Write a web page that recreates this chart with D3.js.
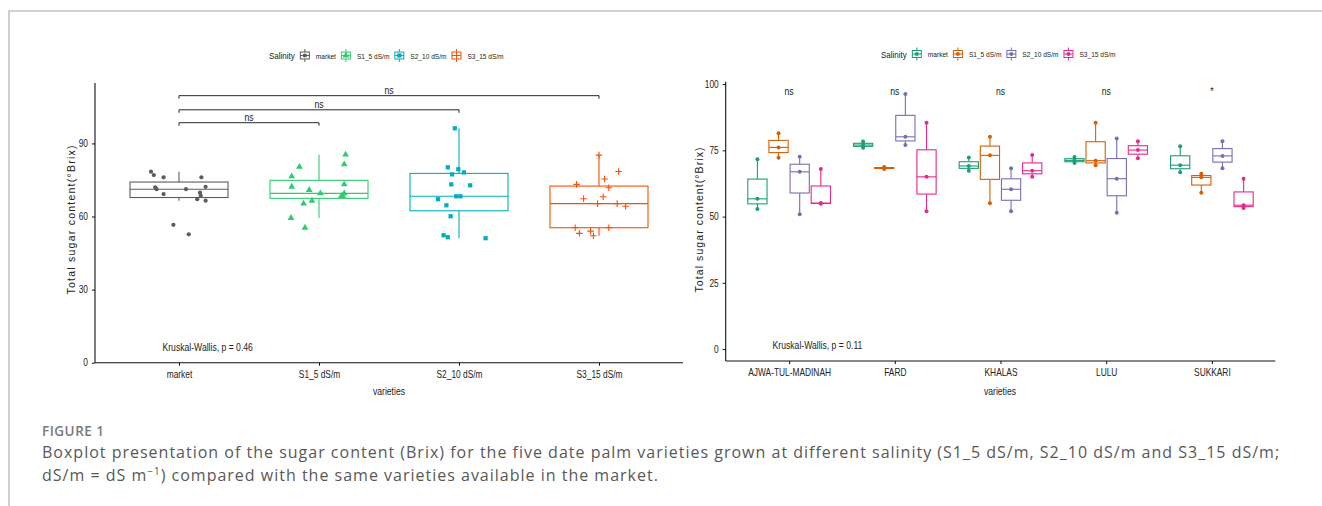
<!DOCTYPE html>
<html>
<head>
<meta charset="utf-8">
<script src="https://cdn.jsdelivr.net/npm/d3@7"></script>
<style>
  body { margin: 0; background: #fff; }
  svg { display: block; }
</style>
</head>
<body>
<svg id="fig" width="1322" height="506"></svg>
<script>
// Data

// left panel: sugar content of all varieties per salinity level (jitter = offset in category widths)
const leftGroups = ['market', 'S1_5 dS/m', 'S2_10 dS/m', 'S3_15 dS/m'];
const marketVals = [78.4, 77.0, 76.1, 76.1, 72.0, 71.2, 71.2, 72.2, 69.2, 69.8, 68.5, 67.1, 66.5, 56.6, 52.7];
const marketJit = [-0.2, -0.18, -0.11, 0.16, -0.17, -0.16, 0.05, 0.19, -0.11, 0.15, 0.155, 0.13, 0.19, -0.04, 0.07];
const s1Vals = [85.4, 81.4, 80.4, 76.5, 72.2, 73.2, 70.9, 69.5, 69.5, 68.4, 68.4, 66.5, 65.3, 59.4, 55.4];
const s1Jit = [0.19, 0.18, -0.14, -0.195, -0.195, 0.18, -0.07, 0.01, 0.18, 0.16, 0.17, -0.05, -0.11, -0.2, -0.1];
const s2Vals = [96.2, 80.2, 79.4, 78.1, 77.3, 73.2, 72.8, 68.3, 68.3, 67.1, 64.6, 60.1, 52.3, 51.5, 51.1];
const s2Jit = [-0.03, -0.08, -0.005, 0.035, -0.05, -0.055, 0.08, -0.02, 0.01, -0.15, -0.09, -0.06, -0.11, -0.08, 0.19];
const s3Vals = [85.2, 78.5, 75.4, 73.2, 71.8, 67.3, 68.1, 65.3, 65.3, 64.2, 55.4, 55.4, 53.1, 54.0, 52.1];
const s3Jit = [0.0, 0.14, 0.04, -0.16, 0.07, -0.11, 0.03, -0.01, 0.13, 0.19, -0.17, 0.07, -0.14, -0.06, -0.04];
const leftYTicks = [0, 30, 60, 90];
const leftPairs = [[0, 1], [0, 2], [0, 3]];
const leftPairLevels = [98.5, 103.8, 109.6];
const leftPairLabels = ['ns', 'ns', 'ns'];
const leftKW = 'Kruskal-Wallis, p = 0.46';

// right panel: three readings per variety and salinity level
const varieties = ['AJWA-TUL-MADINAH', 'FARD', 'KHALAS', 'LULU', 'SUKKARI'];
const rMarket = [[71.6, 56.7, 52.9], [78.3, 77.0, 76.0], [72.3, 69.1, 67.3], [72.5, 71.2, 70.2], [76.5, 69.4, 66.7]];
const rS1 = [[81.4, 76.1, 72.2], [68.7, 68.3, 68.0], [80.1, 73.1, 55.0], [85.4, 71.1, 69.4], [66.2, 64.8, 59.0]];
const rS2 = [[72.6, 66.9, 50.9], [96.3, 80.1, 77.0], [68.2, 60.3, 52.0], [79.5, 64.3, 51.4], [78.4, 72.9, 68.2]];
const rS3 = [[68.0, 55.1, 54.8], [85.4, 65.0, 52.0], [73.2, 67.3, 65.0], [78.4, 75.1, 72.0], [64.3, 54.3, 53.2]];
const rightYTicks = [0, 25, 50, 75, 100];
const rightSig = ['ns', 'ns', 'ns', 'ns', '*'];
const rightKW = 'Kruskal-Wallis, p = 0.11';

// Setup

const FONT = "'Liberation Sans', Arial, sans-serif";
const SQUEEZE = 0.82; // narrow look of the original plot font
const leftColors = ['#5c5c5c', '#2ecc71', '#00afbb', '#fc4e07'];
const rightColors = ['#1b9e77', '#d95f02', '#7570b3', '#e7298a'];
const leftShapes = [d3.symbolCircle, d3.symbolTriangle, d3.symbolSquare, d3.symbolPlus];
const leftSizes = [14, 20, 18, 16];

let svg = d3.select('#fig');

// squeeze text horizontally to look like a condensed face
function narrow(sel) {
  sel.each(function () {
    let w = this.getComputedTextLength();
    d3.select(this).attr('textLength', w * SQUEEZE).attr('lengthAdjust', 'spacingAndGlyphs');
  });
  return sel;
}

function label(g, x, y, txt, size, anchor) {
  return narrow(
    g.append('text')
      .attr('x', x).attr('y', y)
      .attr('text-anchor', anchor || 'start')
      .attr('font-family', FONT).attr('font-size', size).attr('fill', '#222')
      .text(txt)
  );
}

function boxStats(vals) {
  let s = vals.slice().sort(d3.ascending);
  let q1 = d3.quantileSorted(s, 0.25);
  let med = d3.quantileSorted(s, 0.5);
  let q3 = d3.quantileSorted(s, 0.75);
  let iqr = q3 - q1;
  let lo = d3.min(s.filter((v) => v >= q1 - 1.5 * iqr));
  let hi = d3.max(s.filter((v) => v <= q3 + 1.5 * iqr));
  return { q1, med, q3, lo, hi };
}

function drawBox(g, cx, w, st, color, y) {
  g.append('line')
    .attr('x1', cx).attr('x2', cx)
    .attr('y1', y(st.q3)).attr('y2', y(st.hi))
    .attr('stroke', color).attr('stroke-width', 1.1);
  g.append('line')
    .attr('x1', cx).attr('x2', cx)
    .attr('y1', y(st.q1)).attr('y2', y(st.lo))
    .attr('stroke', color).attr('stroke-width', 1.1);
  g.append('rect')
    .attr('x', cx - w / 2).attr('width', w)
    .attr('y', y(st.q3)).attr('height', Math.max(y(st.q1) - y(st.q3), 0.5))
    .attr('fill', '#fff').attr('stroke', color).attr('stroke-width', 1.1);
  g.append('line')
    .attr('x1', cx - w / 2).attr('x2', cx + w / 2)
    .attr('y1', y(st.med)).attr('y2', y(st.med))
    .attr('stroke', color).attr('stroke-width', 1.1);
}

function axes(g, x, y, ticks, x0, x1, yTop, yBottom) {
  g.append('g')
    .attr('transform', `translate(0,${yBottom})`)
    .call(d3.axisBottom(x).tickSize(3).tickPadding(5))
    .call((a) => a.select('.domain').attr('d', `M${x0},0H${x1}`));
  g.append('g')
    .attr('transform', `translate(${x0},0)`)
    .call(d3.axisLeft(y).tickValues(ticks).tickSize(3).tickPadding(4))
    .call((a) => a.select('.domain').attr('d', `M0,${yTop}V${yBottom}`));
  narrow(g.selectAll('.tick text').attr('font-family', FONT).attr('font-size', 10.2).attr('fill', '#222'));
  g.selectAll('.domain').attr('stroke', '#111').attr('stroke-width', 1.1);
  g.selectAll('.tick line').attr('stroke', '#111');
}

function legend(cx, cy, colors, shapes, sizes) {
  let g = svg.append('g');
  let t = label(g, 0, cy + 3.5, 'Salinity', 9.8);
  let xpos = +t.attr('textLength') + 5.5;
  leftGroups.forEach(function (name, i) {
    let k = g.append('g').attr('transform', `translate(${xpos + 4.5},${cy})`);
    k.append('line').attr('y1', -6.5).attr('y2', 6.5).attr('stroke', colors[i]);
    k.append('rect').attr('x', -4.5).attr('y', -3.5).attr('width', 9).attr('height', 7)
      .attr('fill', '#fff').attr('stroke', colors[i]);
    k.append('line').attr('x1', -4.5).attr('x2', 4.5).attr('stroke', colors[i]);
    let sh = shapes[i];
    k.append('path')
      .attr('d', d3.symbol(sh, sizes[i])())
      .attr('fill', sh === d3.symbolPlus ? 'none' : colors[i])
      .attr('stroke', sh === d3.symbolPlus ? colors[i] : 'none');
    let lt = label(g, xpos + 15.5, cy + 3, name, 8);
    xpos += 15.5 + +lt.attr('textLength') + 5.5;
  });
  g.attr('transform', `translate(${cx - xpos / 2},0)`);
}

// Frame
svg.append('path').attr('d', 'M9,506V11H1322').attr('fill', 'none').attr('stroke', '#c4c4c4').attr('stroke-width', 1.6);

// Left panel

let xL = d3.scalePoint().domain(leftGroups).range([95, 683]).padding(0.6);
let yL = d3.scaleLinear().domain([0, 114.8]).range([362.7, 83]);
let gL = svg.append('g');
axes(gL, xL, yL, leftYTicks, 95, 683, 83, 362.7);

let leftVals = [marketVals, s1Vals, s2Vals, s3Vals];
let leftJit = [marketJit, s1Jit, s2Jit, s3Jit];
let stepL = xL.step();

leftGroups.forEach(function (name, i) {
  drawBox(gL, xL(name), stepL * 0.7, boxStats(leftVals[i]), leftColors[i], yL);
});
leftGroups.forEach(function (name, i) {
  let sh = leftShapes[i];
  gL.selectAll(null)
    .data(leftVals[i])
    .join('path')
    .attr('transform', (d, j) => `translate(${xL(name) + leftJit[i][j] * stepL},${yL(d)})`)
    .attr('d', d3.symbol(sh, leftSizes[i])())
    .attr('fill', sh === d3.symbolPlus ? 'none' : leftColors[i])
    .attr('stroke', sh === d3.symbolPlus ? leftColors[i] : 'none')
    .attr('stroke-width', 1.1);
});

// comparison brackets
leftPairs.forEach(function (p, i) {
  let xa = xL(leftGroups[p[0]]);
  let xb = xL(leftGroups[p[1]]);
  let yy = yL(leftPairLevels[i]);
  gL.append('path')
    .attr('d', `M${xa},${yy + 3}V${yy}H${xb}V${yy + 3}`)
    .attr('fill', 'none').attr('stroke', '#111').attr('stroke-width', 0.9);
  label(gL, (xa + xb) / 2, yy - 2, leftPairLabels[i], 10.5, 'middle');
});

label(gL, xL(leftGroups[0]) - 16.5, yL(4.8), leftKW, 10.5);

gL.append('text')
  .attr('transform', 'translate(74.5,220) rotate(-90)')
  .attr('text-anchor', 'middle').attr('font-family', FONT).attr('font-size', 10.5)
  .attr('textLength', 149).attr('lengthAdjust', 'spacing').attr('fill', '#222')
  .text('Total sugar content(°Brix)');
label(gL, 389, 395, 'varieties', 10.5, 'middle');

legend(389, 55.5, leftColors, leftShapes, leftSizes);

// Right panel

let xR = d3.scalePoint().domain(varieties).range([725.7, 1275.3]).padding(0.6);
let yR = d3.scaleLinear().domain([-4.5, 100.9]).range([361, 81.7]);
let dodge = d3.scaleBand().domain(leftGroups).range([-0.4 * xR.step(), 0.4 * xR.step()]);
let gR = svg.append('g');
axes(gR, xR, yR, rightYTicks, 725.7, 1275.3, 81.7, 361);

let rightVals = [rMarket, rS1, rS2, rS3];
varieties.forEach(function (v, k) {
  leftGroups.forEach(function (name, i) {
    let cx = xR(v) + dodge(name) + dodge.bandwidth() / 2;
    drawBox(gR, cx, dodge.bandwidth() * 0.91, boxStats(rightVals[i][k]), rightColors[i], yR);
    gR.selectAll(null)
      .data(rightVals[i][k])
      .join('circle')
      .attr('cx', cx).attr('cy', (d) => yR(d))
      .attr('r', 2).attr('fill', rightColors[i]);
  });
  label(gR, xR(v), yR(96), rightSig[k], 10.5, 'middle');
});

label(gR, xR(varieties[0]) - 16.5, yR(0), rightKW, 10.5);

gR.append('text')
  .attr('transform', 'translate(702.5,220) rotate(-90)')
  .attr('text-anchor', 'middle').attr('font-family', FONT).attr('font-size', 10.5)
  .attr('textLength', 145).attr('lengthAdjust', 'spacing').attr('fill', '#222')
  .text('Total sugar content(°Brix)');
label(gR, 1000, 395, 'varieties', 10.5, 'middle');

legend(1001, 54, rightColors, [d3.symbolCircle, d3.symbolCircle, d3.symbolCircle, d3.symbolCircle], [12, 12, 12, 12]);

// Caption
svg.append('text')
  .attr('x', 42).attr('y', 436)
  .attr('font-family', "'Open Sans', 'Noto Sans', sans-serif").attr('font-weight', 600)
  .attr('font-size', 13.5).attr('letter-spacing', 0.5).attr('fill', '#7a7a7a')
  .text('FIGURE 1');
let cap = svg.append('text')
  .attr('font-family', "'Open Sans', 'Noto Sans', sans-serif")
  .attr('font-size', 16).attr('letter-spacing', 1.0).attr('fill', '#585858');
cap.append('tspan').attr('x', 42).attr('y', 457.5)
  .text('Boxplot presentation of the sugar content (Brix) for the five date palm varieties grown at different salinity (S1_5 dS/m, S2_10 dS/m and S3_15 dS/m;');
let l2 = cap.append('tspan').attr('x', 42).attr('y', 481);
l2.append('tspan').text('dS/m = dS m');
l2.append('tspan').attr('dy', -6).attr('font-size', 10).text('\u22121');
l2.append('tspan').attr('dy', 6).text(') compared with the same varieties available in the market.');
</script>
</body>
</html>
